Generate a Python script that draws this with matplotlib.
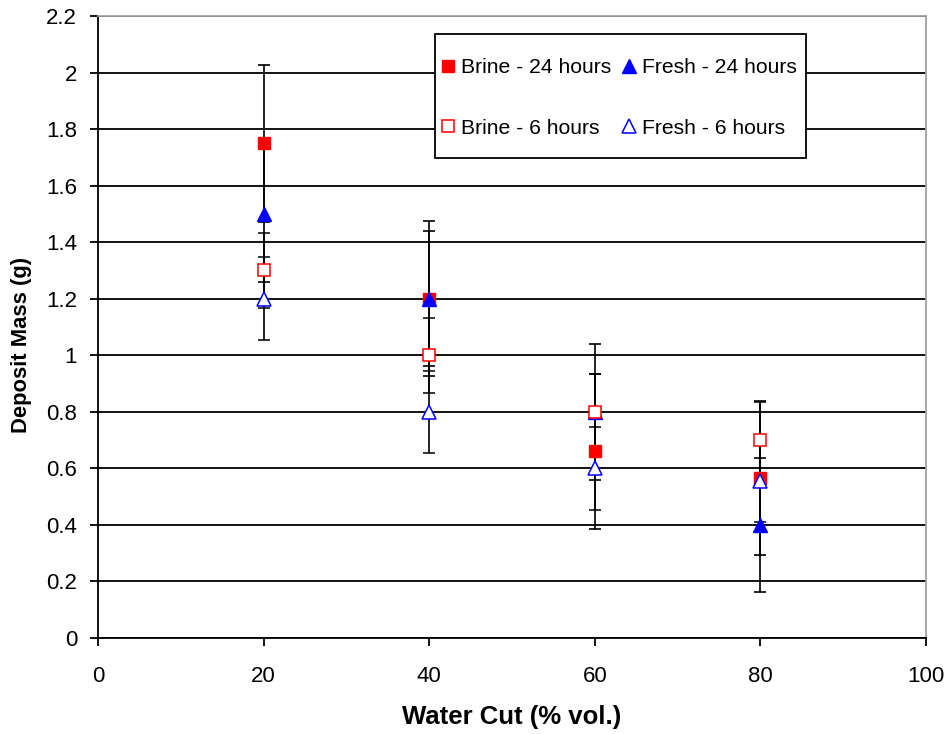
import matplotlib
matplotlib.use("Agg")
import matplotlib.pyplot as plt
from matplotlib.patches import Rectangle
from matplotlib.ticker import MultipleLocator, FuncFormatter

plt.rcParams['font.family'] = ['Liberation Sans', 'DejaVu Sans']

water_cut = [20, 40, 60, 80]
brine_24 = [1.75, 1.20, 0.66, 0.565]
brine_24_err = [0.277, 0.274, 0.275, 0.272]
fresh_24 = [1.50, 1.20, 0.80, 0.40]
fresh_24_err = [0.24, 0.239, 0.24, 0.238]
brine_6 = [1.30, 1.00, 0.80, 0.70]
brine_6_err = [0.134, 0.133, 0.133, 0.133]
fresh_6 = [1.20, 0.80, 0.60, 0.555]
fresh_6_err = [0.147, 0.146, 0.146, 0.146]

W, H = 951, 734
fig = plt.figure(figsize=(W/100, H/100), dpi=100)
ax = fig.add_axes([98/W, 1 - 638/H, (926-98)/W, (638-16)/H])

ax.set_xlim(0, 100)
ax.set_ylim(0, 2.2)
ax.yaxis.set_major_locator(MultipleLocator(0.2))
ax.xaxis.set_major_locator(MultipleLocator(20))
ax.yaxis.set_major_formatter(FuncFormatter(lambda v, p: f"{v:.1f}".rstrip('0').rstrip('.') if abs(v) > 1e-9 else "0"))
ax.grid(axis='y', color='black', linewidth=1.3)
ax.set_axisbelow(True)
for s in ['top', 'right']:
    ax.spines[s].set_color('#a0a0a0')
    ax.spines[s].set_linewidth(1.3)
for s in ['left', 'bottom']:
    ax.spines[s].set_color('black')
    ax.spines[s].set_linewidth(1.3)
ax.tick_params(axis='both', direction='out', length=6, width=1.3, color='black', labelsize=16)
ax.tick_params(axis='y', pad=9)
ax.tick_params(axis='x', pad=14)

ekw = dict(ecolor='black', elinewidth=1.2, capsize=4, capthick=1.2, linestyle='none')
ax.errorbar(water_cut, brine_24, yerr=brine_24_err, marker='s', ms=8.5, mfc='#ff0000', mec='#ff0000', **ekw)
ax.errorbar(water_cut, fresh_24, yerr=fresh_24_err, marker='^', ms=10.5, mfc='#0000ff', mec='#0000ff', **ekw)
ax.errorbar(water_cut, brine_6, yerr=brine_6_err, marker='s', ms=8.5, mfc='white', mec='#ff0000', mew=1.1, **ekw)
ax.errorbar(water_cut, fresh_6, yerr=fresh_6_err, marker='^', ms=10.5, mfc='white', mec='#0000ff', mew=1.1, **ekw)

fig.canvas.draw()
gl = ax.get_ygridlines()
if gl:
    gl[-1].set_visible(False)

# legend frame (Excel style box, larger vertical padding)
frame = Rectangle((435/W, 1 - 158/H), (806-435)/W, (158-34)/H, transform=fig.transFigure,
                  facecolor='white', edgecolor='black', linewidth=1.3, zorder=4, clip_on=False)
ax.add_patch(frame)

lh = [plt.Line2D([], [], marker='s', ms=8.5, mfc='#ff0000', mec='#ff0000', ls='none'),
      plt.Line2D([], [], marker='s', ms=8.5, mfc='white', mec='#ff0000', mew=1.1, ls='none'),
      plt.Line2D([], [], marker='^', ms=10.5, mfc='#0000ff', mec='#0000ff', ls='none'),
      plt.Line2D([], [], marker='^', ms=10.5, mfc='white', mec='#0000ff', mew=1.1, ls='none')]
ll = ['Brine - 24 hours', 'Brine - 6 hours', 'Fresh - 24 hours', 'Fresh - 6 hours']
leg = ax.legend(lh, ll, ncol=2, loc='upper left', bbox_to_anchor=(442/W, 1 - 58/H),
                bbox_transform=fig.transFigure,
                fontsize=15.2, frameon=False,
                handlelength=0.6, handletextpad=0.3, columnspacing=0.55,
                labelspacing=1.98, borderpad=0, borderaxespad=0)
leg.set_zorder(5)

ax.set_xlabel('Water Cut (% vol.)', fontsize=18.5, fontweight='bold')
ax.set_ylabel('Deposit Mass (g)', fontsize=15.8, fontweight='bold')
ax.xaxis.set_label_coords(0.5, (638-717)/622)
ax.yaxis.set_label_coords((22-98)/828, (638-345)/622)
ax.xaxis.label.set_va('center')
ax.yaxis.label.set_va('center')

fig.savefig('out.png', dpi=100)
